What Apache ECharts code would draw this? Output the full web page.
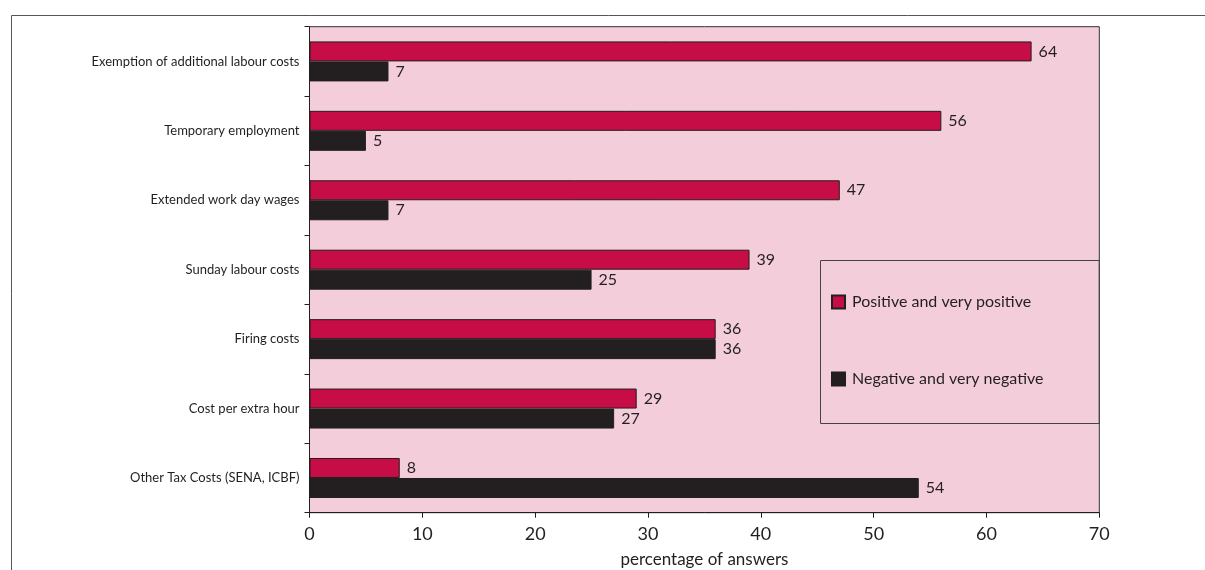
<!DOCTYPE html>
<html>
<head>
<meta charset="utf-8">
<script src="https://cdn.jsdelivr.net/npm/echarts@6/dist/echarts.min.js"></script>
<style>
  html, body { margin: 0; padding: 0; background: #fff; }
  #chart { width: 1205px; height: 570px; }
</style>
</head>
<body>
<div id="chart"></div>
<script>
// categories, top to bottom
var categories = [
  'Exemption of additional labour costs',
  'Temporary employment',
  'Extended work day wages',
  'Sunday labour costs',
  'Firing costs',
  'Cost per extra hour',
  'Other Tax Costs (SENA, ICBF)'
];
var positive = [64, 56, 47, 39, 36, 29, 8];
var negative = [7, 5, 7, 25, 36, 27, 54];
var seriesNames = ['Positive and very positive', 'Negative and very negative'];

var font = 'Lato';
var ink = '#231f20';

var chart = echarts.init(document.getElementById('chart'));

var option = {
  animation: false,
  textStyle: { fontFamily: font, color: ink },
  grid: {
    left: 309.5, right: 105.7, top: 26.7, bottom: 57.3,
    outerBoundsMode: 'none',
    containLabel: false,
    show: true,
    backgroundColor: '#f4cdda',
    borderColor: '#333',
    borderWidth: 1
  },
  // outer frame + legend box
  graphic: [
    {
      type: 'rect', silent: true, z: -1,
      shape: { x: 11.5, y: 15.5, width: 1300, height: 700 },
      style: { fill: 'none', stroke: '#555', lineWidth: 1 }
    },
    {
      type: 'rect', silent: true, z: 1,
      shape: { x: 820.5, y: 260.5, width: 278.8, height: 163 },
      style: { fill: 'none', stroke: '#444', lineWidth: 1 }
    }
  ],
  legend: {
    orient: 'vertical',
    left: 826,
    top: 289,
    itemGap: 61,
    itemWidth: 13,
    itemHeight: 13,
    icon: 'rect',
    data: seriesNames,
    textStyle: { fontFamily: font, fontSize: 16, color: ink, padding: [0, 0, 0, 2] }
  },
  xAxis: {
    type: 'value',
    min: 0, max: 70, interval: 10,
    name: 'percentage of answers',
    nameLocation: 'middle',
    nameGap: 38,
    nameTextStyle: { fontFamily: font, fontSize: 17, color: ink },
    axisLine: { show: true, lineStyle: { color: ink } },
    axisTick: { show: true, length: 5, lineStyle: { color: ink } },
    axisLabel: { fontFamily: font, fontSize: 18, color: ink, margin: 12 },
    splitLine: { show: false }
  },
  yAxis: {
    type: 'category',
    inverse: true,
    data: categories,
    axisLine: { show: true, lineStyle: { color: ink } },
    axisTick: { show: true, length: 5, lineStyle: { color: ink } },
    axisLabel: { fontFamily: font, fontSize: 13, color: ink, margin: 10 }
  },
  series: [
    {
      name: seriesNames[0],
      type: 'bar',
      data: positive,
      barWidth: 20,
      barGap: '0%',
      itemStyle: { color: '#c60d45', borderColor: ink, borderWidth: 1 },
      label: { show: true, position: 'right', distance: 7, fontFamily: font, fontSize: 16, color: ink }
    },
    {
      name: seriesNames[1],
      type: 'bar',
      data: negative,
      barWidth: 20,
      barGap: '0%',
      itemStyle: { color: '#231f20', borderColor: ink, borderWidth: 1 },
      label: { show: true, position: 'right', distance: 7, fontFamily: font, fontSize: 16, color: ink }
    }
  ]
};

chart.setOption(option);
</script>
</body>
</html>
